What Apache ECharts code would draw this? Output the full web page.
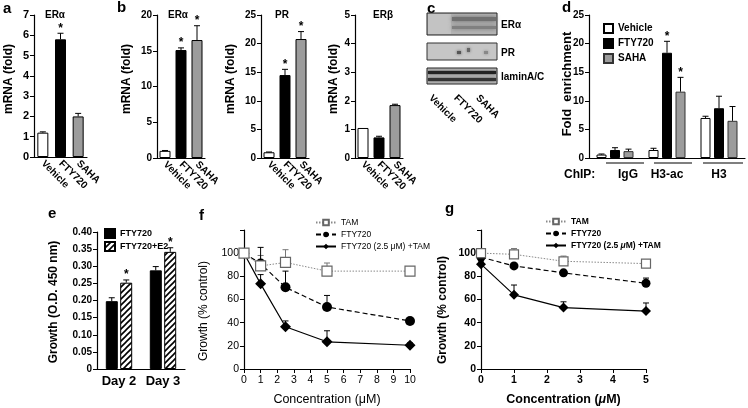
<!DOCTYPE html>
<html>
<head>
<meta charset="utf-8">
<script src="https://cdn.jsdelivr.net/npm/echarts@6/dist/echarts.min.js"></script>
<style>
  html, body { margin: 0; background: #fff; }
  #chart-container { width: 748px; height: 408px; }
</style>
</head>
<body>
<div id="chart-container"></div>
<script>
// a, b: mRNA (fold)
var mrnaCats = ["Vehicle", "FTY720", "SAHA"];
var aEra = [1.2, 5.8, 2.0];
var aEraErr = [0.04, 0.3, 0.15];
var aEraStar = [0, 1, 0];
var bEra = [1.0, 15.1, 16.5];
var bEraErr = [0.05, 0.3, 2.0];
var bEraStar = [0, 1, 1];
var bPr = [1.0, 14.5, 20.8];
var bPrErr = [0.05, 1.0, 1.3];
var bPrStar = [0, 1, 1];
var bErb = [1.05, 0.72, 1.85];
var bErbErr = [0, 0.04, 0.03];

// d: ChIP fold enrichment
var chipCats = ["IgG", "H3-ac", "H3"];
var chipVehicle = [0.6, 1.4, 7.0];
var chipVehicleErr = [0.1, 0.3, 0.3];
var chipFty = [1.4, 18.4, 8.7];
var chipFtyErr = [0.4, 2.0, 2.1];
var chipFtyStar = [0, 1, 0];
var chipSaha = [1.2, 11.6, 6.5];
var chipSahaErr = [0.35, 2.5, 2.5];
var chipSahaStar = [0, 1, 0];

// e: growth O.D.
var dayCats = ["Day 2", "Day 3"];
var eFty = [0.198, 0.288];
var eFtyErr = [0.01, 0.011];
var eFtyE2 = [0.252, 0.342];
var eFtyE2Err = [0.008, 0.012];
var eFtyE2Star = [1, 1];

// f: growth (% control) vs concentration
var fConc = [0, 1, 2.5, 5, 10];
var fTam = [100, 89, 92, 84.5, 84.5];
var fTamErr = [0, 9, 11, 7, 0];
var fFty = [100, 91, 70.5, 53.5, 41.5];
var fFtyErr = [0, 14, 14, 10, 1];
var fCombo = [100, 73.5, 36.5, 23.5, 20.5];
var fComboErr = [0, 8, 5, 9.5, 2];

// g
var gConc = [0, 1, 2.5, 5];
var gTam = [100, 99, 93, 91];
var gTamErr = [0, 5, 4.5, 1];
var gFty = [96.5, 89, 83, 74];
var gFtyErr = [0, 1, 1, 4.5];
var gCombo = [90.5, 64, 53, 50];
var gComboErr = [2, 8.5, 5, 7];

var FONT = 'Arial, "Liberation Sans", sans-serif';
var fills = ["#fff", "#000", "#9c9c9c"];

function hatch() {
  var c = document.createElement("canvas");
  c.width = 6; c.height = 6;
  var g = c.getContext("2d");
  g.fillStyle = "#fff";
  g.fillRect(0, 0, 6, 6);
  g.strokeStyle = "#000";
  g.lineWidth = 1.6;
  g.beginPath();
  g.moveTo(0, 6); g.lineTo(6, 0);
  g.moveTo(-1, 1); g.lineTo(1, -1);
  g.moveTo(5, 7); g.lineTo(7, 5);
  g.stroke();
  return c;
}

function yVal(grid, max, interval, bold, extra) {
  var w = bold ? "bold" : "normal";
  var ax = {
    type: "value", gridIndex: grid, min: 0, max: max, interval: interval,
    axisLine: { show: true, lineStyle: { color: "#000", width: 1.2 } },
    axisTick: { show: true, length: 4, lineStyle: { color: "#000" } },
    splitLine: { show: false },
    axisLabel: { color: "#000", fontSize: 10, fontWeight: w, margin: 5 }
  };
  return echarts.util.merge(ax, extra || {}, true);
}

function xCat(grid, cats, extra) {
  var ax = {
    type: "category", gridIndex: grid, data: cats,
    axisLine: { lineStyle: { color: "#000", width: 1.2 } },
    axisTick: { show: false },
    axisLabel: { interval: 0, rotate: -45, margin: 5, color: "#000", fontSize: 10, fontWeight: "bold" }
  };
  return echarts.util.merge(ax, extra || {}, true);
}

function xVal(grid, max, bold) {
  var w = bold ? "bold" : "normal";
  return {
    type: "value", gridIndex: grid, min: 0, max: max, interval: 1,
    name: "Concentration (" + (bold ? "{i|μ}" : "μ") + "M)",
    nameLocation: "middle", nameGap: 24,
    nameTextStyle: {
      fontSize: 12.5, fontWeight: w, color: "#000",
      rich: { i: { fontSize: 12.5, fontWeight: w, fontStyle: "italic", color: "#000" } }
    },
    axisLine: { lineStyle: { color: "#000", width: 1.2 } },
    axisTick: { show: true, length: 4, lineStyle: { color: "#000" } },
    splitLine: { show: false },
    axisLabel: { color: "#000", fontSize: 10.5, fontWeight: w, margin: 6 }
  };
}

// error bars (upward T) + optional asterisk
function errBars(axis, xs, vals, errs, stars, offset, color, z) {
  return {
    type: "custom", xAxisIndex: axis, yAxisIndex: axis, z: z, silent: true,
    data: vals.map(function (v, i) { return [xs[i], v, errs[i], stars ? stars[i] : 0]; }),
    renderItem: function (params, api) {
      var p0 = api.coord([api.value(0), api.value(1)]);
      var p1 = api.coord([api.value(0), api.value(1) + api.value(2)]);
      var x = p0[0] + offset;
      var kids = [];
      if (api.value(2) > 0) {
        kids.push({ type: "line", shape: { x1: x, y1: p0[1], x2: x, y2: p1[1] }, style: { stroke: color, lineWidth: 1 } });
        kids.push({ type: "line", shape: { x1: x - 3, y1: p1[1], x2: x + 3, y2: p1[1] }, style: { stroke: color, lineWidth: 1 } });
      }
      if (api.value(3)) {
        kids.push({ type: "text", style: { text: "*", x: x, y: p1[1] + 1, align: "center", verticalAlign: "bottom", font: "bold 12px " + FONT, fill: "#000" } });
      }
      return { type: "group", children: kids };
    }
  };
}

function mrnaBars(axis, vals) {
  return {
    type: "bar", xAxisIndex: axis, yAxisIndex: axis, barWidth: 11,
    itemStyle: { borderColor: "#000", borderWidth: 1 },
    data: vals.map(function (v, k) { return { value: v, itemStyle: { color: fills[k] } }; })
  };
}

var idx = [0, 1, 2];
var dayIdx = [0, 1];

// bar-group offsets (barWidth, gap in px)
function groupOffset(n, i, w, gap) {
  var total = n * w + (n - 1) * gap;
  return -total / 2 + i * (w + gap) + w / 2;
}

function lineSeries(axis, name, xs, vals, kind, big) {
  var s = {
    type: "line", name: name, xAxisIndex: axis, yAxisIndex: axis, z: 3,
    data: xs.map(function (x, i) { return [x, vals[i]]; }),
    symbolSize: big ? 10 : 9
  };
  if (kind === "tam") {
    s.symbol = "rect";
    s.lineStyle = { color: "#8a8a8a", width: 1, type: [1.5, 1.5] };
    s.itemStyle = { color: "#fff", borderColor: "#666", borderWidth: 1.2 };
  } else if (kind === "fty") {
    s.symbol = "circle";
    s.lineStyle = { color: "#000", width: 1.2, type: [5, 3] };
    s.itemStyle = { color: "#000" };
  } else {
    s.symbol = "diamond";
    s.symbolSize = big ? 11 : 10;
    s.lineStyle = { color: "#000", width: 1.2 };
    s.itemStyle = { color: "#000" };
  }
  return s;
}

function txt(text, x, y, size, opt) {
  opt = opt || {};
  return {
    type: "text", x: x, y: y, rotation: opt.rot || 0, silent: true,
    style: {
      text: text, fill: "#000", align: opt.align || "left", verticalAlign: opt.va || "top",
      font: (opt.weight || "bold") + " " + size + "px " + FONT
    }
  };
}

// rotated y-axis title centred at (x, y)
function ytitle(text, x, y, size, weight) {
  return txt(text, x, y, size, { rot: Math.PI / 2, align: "center", va: "middle", weight: weight });
}

function rect(x, y, w, h, fill, extra) {
  return { type: "rect", silent: true, shape: { x: x, y: y, width: w, height: h }, style: echarts.util.extend({ fill: fill }, extra || {}) };
}

var blot = [
  rect(427, 13, 70, 22, "#b4b4b4", { stroke: "#222", lineWidth: 1 }),
  rect(428, 14, 23, 20, "#c3c3c3"),
  rect(452, 17, 44, 4, "#707070", { shadowBlur: 4, shadowColor: "#666" }),
  rect(452, 26, 44, 3, "#808080", { shadowBlur: 4, shadowColor: "#777" }),
  rect(427, 43, 70, 17, "#c6c6c6", { stroke: "#333", lineWidth: 1 }),
  rect(457, 51, 4, 3, "#555", { shadowBlur: 3, shadowColor: "#555" }),
  rect(467, 48, 3, 4, "#666", { shadowBlur: 3, shadowColor: "#666" }),
  rect(484, 51, 4, 3, "#888", { shadowBlur: 3, shadowColor: "#888" }),
  rect(427, 68, 70, 16, "#bdbdbd", { stroke: "#222", lineWidth: 1 }),
  rect(428, 71, 68, 3, "#222", { shadowBlur: 3, shadowColor: "#333" }),
  rect(428, 78, 68, 3, "#333", { shadowBlur: 3, shadowColor: "#444" })
];

var graphics = [
  txt("a", 3, 1, 15),
  txt("b", 117, 0, 15),
  txt("c", 427, 1, 15),
  txt("d", 562, 0, 15),
  txt("e", 48, 206, 15),
  txt("f", 199, 208, 15),
  txt("g", 445, 201, 15),
  txt("ERα", 55, 10, 10, { align: "center" }),
  txt("ERα", 178, 10, 10, { align: "center" }),
  txt("PR", 282, 10, 10, { align: "center" }),
  txt("ERβ", 383, 10, 10, { align: "center" }),
  ytitle("mRNA (fold)", 9, 79, 12),
  ytitle("mRNA (fold)", 127, 79, 12),
  ytitle("mRNA (fold)", 231, 79, 12),
  ytitle("mRNA (fold)", 334, 79, 12),
  ytitle("Fold  enrichment", 567, 84, 13),
  ytitle("Growth (O.D. 450 nm)", 54, 302, 12),
  ytitle("Growth (% control)", 204, 311, 12, "normal"),
  ytitle("Growth (% control)", 443, 310, 12),
  txt("ERα", 501, 20, 10),
  txt("PR", 501, 48, 10),
  txt("laminA/C", 501, 72, 10),
  txt("Vehicle", 434, 93, 10, { rot: -Math.PI / 4 }),
  txt("FTY720", 459, 93, 10, { rot: -Math.PI / 4 }),
  txt("SAHA", 481, 93, 10, { rot: -Math.PI / 4 }),
  txt("ChIP:", 564, 169, 12),
  { type: "line", silent: true, shape: { x1: 606, y1: 163, x2: 644, y2: 163 }, style: { stroke: "#000", lineWidth: 1.2 } },
  { type: "line", silent: true, shape: { x1: 654, y1: 163, x2: 692, y2: 163 }, style: { stroke: "#000", lineWidth: 1.2 } },
  { type: "line", silent: true, shape: { x1: 703, y1: 163, x2: 743, y2: 163 }, style: { stroke: "#000", lineWidth: 1.2 } }
].concat(blot);

var dW = 10, dGap = 3.5, eW = 12, eGap = 2.5;
var hatchFill = { image: hatch(), repeat: "repeat" };
var stripName = function (n) { return n.split(":")[1]; };
var upTo100 = function (v) { return v > 100 ? "" : String(v); };

var option = {
  animation: false,
  backgroundColor: "#fff",
  textStyle: { fontFamily: FONT },
  graphic: graphics,
  grid: [
    { left: 34, top: 15, width: 53, height: 142 },
    { left: 157, top: 15, width: 48, height: 143 },
    { left: 261, top: 15, width: 48, height: 143 },
    { left: 355, top: 15, width: 48, height: 143 },
    { left: 589, top: 15, width: 156, height: 143 },
    { left: 97, top: 232, width: 88, height: 137 },
    { left: 244, top: 230, width: 166, height: 139 },
    { left: 481, top: 230, width: 165, height: 139 }
  ],
  xAxis: [
    xCat(0, mrnaCats),
    xCat(1, mrnaCats),
    xCat(2, mrnaCats),
    xCat(3, mrnaCats),
    xCat(4, chipCats, {
      axisLabel: {
        rotate: 0, margin: 11, fontSize: 12,
        formatter: function (v, i) { return i === 0 ? "{p|" + v + "}" : v; },
        rich: { p: { padding: [0, 0, 0, 26], fontSize: 12, fontWeight: "bold", color: "#000" } }
      }
    }),
    xCat(5, dayCats, { axisLabel: { rotate: 0, margin: 6, fontSize: 13 } }),
    xVal(6, 10, false),
    xVal(7, 5, true)
  ],
  yAxis: [
    yVal(0, 7, 1, true, { axisLabel: { fontSize: 11 } }),
    yVal(1, 20, 5, true),
    yVal(2, 25, 5, true),
    yVal(3, 5, 1, true),
    yVal(4, 25, 5, true),
    yVal(5, 0.4, 0.05, true, {
      axisLabel: { formatter: function (v) { return v === 0 ? "0" : v.toFixed(2); } }
    }),
    yVal(6, 120, 20, false, { axisLabel: { fontSize: 10.5, formatter: upTo100 } }),
    yVal(7, 120, 20, true, { axisLabel: { fontSize: 10.5, formatter: upTo100 } })
  ],
  legend: [
    {
      left: 598, top: 18, orient: "vertical", itemWidth: 9, itemHeight: 9, itemGap: 4,
      icon: "rect", formatter: stripName,
      textStyle: { fontSize: 10, fontWeight: "bold", color: "#000" },
      data: ["d:Vehicle", "d:FTY720", "d:SAHA"]
    },
    {
      left: 99, top: 223, orient: "vertical", itemWidth: 10, itemHeight: 9, itemGap: 2, itemTextGap: 3,
      icon: "rect", formatter: stripName,
      textStyle: { fontSize: 9, fontWeight: "bold", color: "#000" },
      data: ["e:FTY720", "e:FTY720+E2"]
    },
    {
      left: 310, top: 213, orient: "vertical", itemWidth: 20, itemHeight: 7, itemGap: 3,
      formatter: stripName,
      textStyle: { fontSize: 8.5, color: "#000" },
      data: ["f:TAM", "f:FTY720", "f:FTY720 (2.5 μM) +TAM"]
    },
    {
      left: 540, top: 212, orient: "vertical", itemWidth: 20, itemHeight: 7, itemGap: 3,
      formatter: function (n) { return stripName(n).replace("μ", "{i|μ}"); },
      textStyle: {
        fontSize: 8.5, fontWeight: "bold", color: "#000",
        rich: { i: { fontSize: 8.5, fontWeight: "bold", fontStyle: "italic", color: "#000" } }
      },
      data: ["g:TAM", "g:FTY720", "g:FTY720 (2.5 μM) +TAM"]
    }
  ],
  series: [
    // a
    mrnaBars(0, aEra),
    errBars(0, idx, aEra, aEraErr, aEraStar, 0, "#000", 5),
    // b
    mrnaBars(1, bEra),
    errBars(1, idx, bEra, bEraErr, bEraStar, 0, "#000", 5),
    mrnaBars(2, bPr),
    errBars(2, idx, bPr, bPrErr, bPrStar, 0, "#000", 5),
    mrnaBars(3, bErb),
    errBars(3, idx, bErb, bErbErr, null, 0, "#000", 5),
    // d
    { type: "bar", name: "d:Vehicle", xAxisIndex: 4, yAxisIndex: 4, barWidth: dW, barGap: "35%", data: chipVehicle, itemStyle: { color: "#fff", borderColor: "#000", borderWidth: 1 } },
    { type: "bar", name: "d:FTY720", xAxisIndex: 4, yAxisIndex: 4, barWidth: dW, barGap: "35%", data: chipFty, itemStyle: { color: "#000", borderColor: "#000", borderWidth: 1 } },
    { type: "bar", name: "d:SAHA", xAxisIndex: 4, yAxisIndex: 4, barWidth: dW, barGap: "35%", data: chipSaha, itemStyle: { color: "#9c9c9c", borderColor: "#333", borderWidth: 1 } },
    errBars(4, idx, chipVehicle, chipVehicleErr, null, groupOffset(3, 0, dW, dGap), "#000", 5),
    errBars(4, idx, chipFty, chipFtyErr, chipFtyStar, groupOffset(3, 1, dW, dGap), "#000", 5),
    errBars(4, idx, chipSaha, chipSahaErr, chipSahaStar, groupOffset(3, 2, dW, dGap), "#000", 5),
    // e
    { type: "bar", name: "e:FTY720", xAxisIndex: 5, yAxisIndex: 5, barWidth: eW, barGap: "20%", data: eFty, itemStyle: { color: "#000", borderColor: "#000", borderWidth: 1 } },
    { type: "bar", name: "e:FTY720+E2", xAxisIndex: 5, yAxisIndex: 5, barWidth: eW, barGap: "20%", data: eFtyE2, itemStyle: { color: hatchFill, borderColor: "#000", borderWidth: 1 } },
    errBars(5, dayIdx, eFty, eFtyErr, null, groupOffset(2, 0, eW, eGap), "#000", 5),
    errBars(5, dayIdx, eFtyE2, eFtyE2Err, eFtyE2Star, groupOffset(2, 1, eW, eGap), "#000", 5),
    // f
    errBars(6, fConc, fTam, fTamErr, null, 0, "#777", 1),
    errBars(6, fConc, fFty, fFtyErr, null, 0, "#000", 1),
    errBars(6, fConc, fCombo, fComboErr, null, 0, "#000", 1),
    lineSeries(6, "f:FTY720 (2.5 μM) +TAM", fConc, fCombo, "combo", true),
    lineSeries(6, "f:FTY720", fConc, fFty, "fty", true),
    lineSeries(6, "f:TAM", fConc, fTam, "tam", true),
    // g
    errBars(7, gConc, gTam, gTamErr, null, 0, "#777", 1),
    errBars(7, gConc, gFty, gFtyErr, null, 0, "#000", 1),
    errBars(7, gConc, gCombo, gComboErr, null, 0, "#000", 1),
    lineSeries(7, "g:FTY720 (2.5 μM) +TAM", gConc, gCombo, "combo", false),
    lineSeries(7, "g:FTY720", gConc, gFty, "fty", false),
    lineSeries(7, "g:TAM", gConc, gTam, "tam", false)
  ]
};

var myChart = echarts.init(document.getElementById("chart-container"));
myChart.setOption(option, true);
</script>
</body>
</html>
